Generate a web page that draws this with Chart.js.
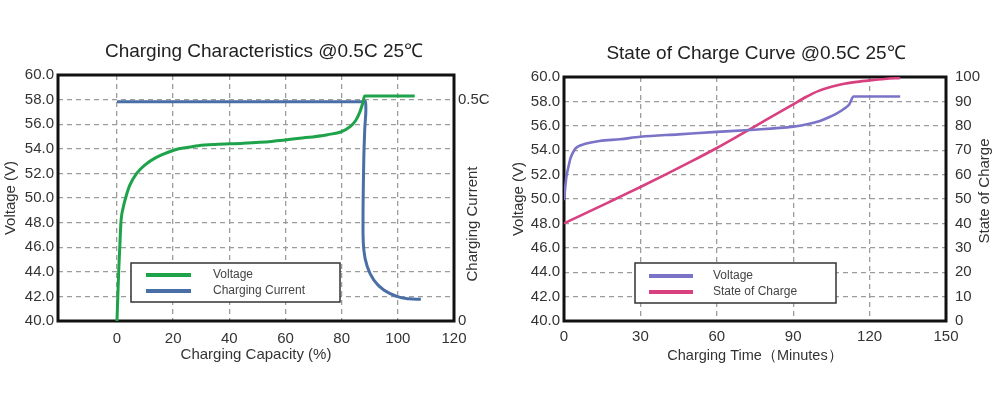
<!DOCTYPE html>
<html>
<head>
<meta charset="utf-8">
<script src="https://cdn.jsdelivr.net/npm/chart.js@4.4.1/dist/chart.umd.min.js"></script>
<style>
html,body{margin:0;padding:0;background:#fff;}
#wrap{position:relative;width:1000px;height:395px;overflow:hidden;}
canvas{position:absolute;top:0;}
#c1{left:0;}
#c2{left:500px;}
</style>
</head>
<body>
<div id="wrap">
<canvas id="c1" width="500" height="395"></canvas>
<canvas id="c2" width="500" height="395"></canvas>
</div>
<script>
// ---------- Left chart: Charging Characteristics ----------
const capVoltageX = [0, 0.3, 0.6, 1.0, 1.4, 2.2, 3.2, 4.5, 7, 10, 14, 18, 22, 26, 29, 35, 45, 55, 65, 75, 80, 83, 85, 86.5, 87.5, 88.2, 95, 106];
const capVoltageY = [40, 42, 44, 46, 48, 49.2, 50.1, 51, 52, 52.7, 53.3, 53.7, 54.0, 54.15, 54.25, 54.35, 54.45, 54.6, 54.85, 55.15, 55.4, 55.8, 56.3, 57.0, 57.7, 58.3, 58.3, 58.3];
const capCurrentX = [0, 87, 88.5, 88.2, 87.9, 87.6, 87.9, 89.1, 91.4, 95.0, 99.9, 104, 108.2];
const capCurrentY = [0.495, 0.495, 0.495, 0.43, 0.371, 0.221, 0.160, 0.123, 0.093, 0.070, 0.055, 0.050, 0.049];
const capTicks = [0, 20, 40, 60, 80, 100, 120];
const voltageTicks = [40, 42, 44, 46, 48, 50, 52, 54, 56, 58, 60];
const voltageTickLabels = ['40.0','42.0','44.0','46.0','48.0','50.0','52.0','54.0','56.0','58.0','60.0'];
const currentTicks = [0, 0.5];
const currentTickLabels = ['0', '0.5C'];

// ---------- Right chart: State of Charge Curve ----------
const timeVoltageX = [0, 0.5, 1, 1.6, 2.5, 4, 5.5, 8, 14, 22, 30, 45, 60, 73, 90, 95, 100.5, 104, 107, 110, 112, 113.7, 132];
const timeVoltageY = [49.9, 51.0, 51.9, 52.5, 53.3, 54.0, 54.3, 54.5, 54.75, 54.9, 55.1, 55.3, 55.5, 55.66, 55.93, 56.1, 56.4, 56.7, 57.0, 57.4, 57.75, 58.4, 58.4];
const timeSocX = [0, 10, 20, 30, 40, 50, 60, 70, 80, 90, 95, 100, 105, 110, 115, 120, 126, 132];
const timeSocY = [40, 44.9, 49.9, 54.9, 60.1, 65.4, 70.9, 76.8, 82.8, 88.8, 91.8, 94.3, 96.0, 97.2, 98.0, 98.6, 99.2, 99.6];
const timeTicks = [0, 30, 60, 90, 120, 150];
const socTicks = [0, 10, 20, 30, 40, 50, 60, 70, 80, 90, 100];

const pts = (xs, ys) => xs.map((x, i) => ({x: x, y: ys[i]}));

Chart.defaults.font.family = '"Liberation Sans", Arial, Helvetica, sans-serif';
Chart.defaults.color = '#333';

const GRID = '#9c9c9c';
const DASH = [5, 4];

const framePlugin = {
  id: 'frame',
  beforeDatasetsDraw(chart) {
    const {ctx, chartArea: a} = chart;
    ctx.save();
    ctx.lineWidth = 3;
    ctx.strokeStyle = '#111';
    ctx.strokeRect(a.left, a.top, a.right - a.left, a.bottom - a.top);
    ctx.restore();
  }
};

const decorPlugin = {
  id: 'decor',
  afterDraw(chart, args, o) {
    const ctx = chart.ctx;
    ctx.save();
    ctx.fillStyle = '#222';
    ctx.font = '19px "Liberation Sans", Arial, sans-serif';
    ctx.textAlign = 'center';
    ctx.textBaseline = 'middle';
    ctx.fillText(o.title.text, o.title.x, o.title.y);
    ctx.save();
    ctx.fillStyle = '#333';
    ctx.font = '15px "Liberation Sans", Arial, sans-serif';
    ctx.translate(o.side.x, o.side.y);
    ctx.rotate(-Math.PI / 2);
    ctx.fillText(o.side.text, 0, 0);
    ctx.restore();
    const b = o.legend.box;
    ctx.fillStyle = '#fff';
    ctx.fillRect(b[0], b[1], b[2], b[3]);
    ctx.lineWidth = 1.5;
    ctx.strokeStyle = '#333';
    ctx.strokeRect(b[0], b[1], b[2], b[3]);
    ctx.font = '12px "Liberation Sans", Arial, sans-serif';
    ctx.textAlign = 'left';
    chart.data.datasets.forEach((ds, i) => {
      const y = o.legend.ys[i];
      ctx.strokeStyle = ds.borderColor;
      ctx.lineWidth = 4;
      ctx.beginPath();
      ctx.moveTo(o.legend.sx[0], y);
      ctx.lineTo(o.legend.sx[1], y);
      ctx.stroke();
      ctx.fillStyle = '#444';
      ctx.fillText(ds.label, o.legend.tx, y);
    });
    ctx.restore();
  }
};

const tickFont = {size: 15};

new Chart(document.getElementById('c1'), {
  type: 'line',
  data: {
    datasets: [
      {label: 'Voltage', data: pts(capVoltageX, capVoltageY), borderColor: '#1ea34b', borderWidth: 3, pointRadius: 0, cubicInterpolationMode: 'monotone', yAxisID: 'y'},
      {label: 'Charging Current', data: pts(capCurrentX, capCurrentY), borderColor: '#4a6ea6', borderWidth: 3, pointRadius: 0, tension: 0.4, yAxisID: 'y1'}
    ]
  },
  options: {
    responsive: false,
    animation: false,
    events: [],
    layout: {padding: {top: 75, left: 0, right: 0, bottom: 0}},
    plugins: {
      legend: {display: false},
      tooltip: {enabled: false},
      decor: {
        title: {text: 'Charging Characteristics @0.5C 25℃', x: 264, y: 52},
        side: {text: 'Charging Current', x: 473, y: 224},
        legend: {box: [131, 263, 209, 39], sx: [146, 191], ys: [275, 291], tx: 213}
      }
    },
    scales: {
      x: {
        type: 'linear', min: -21, max: 120,
        afterBuildTicks: s => { s.ticks = capTicks.map(v => ({value: v})); },
        afterFit: s => { s.height = 74; },
        grid: {color: GRID, lineWidth: 1.3, drawTicks: false},
        border: {display: false, dash: DASH},
        ticks: {color: '#333', font: tickFont, padding: 9, maxRotation: 0, autoSkip: false},
        title: {display: true, text: 'Charging Capacity (%)', color: '#333', font: {size: 15}, padding: {top: 0, bottom: 31}}
      },
      y: {
        type: 'linear', position: 'left', min: 40, max: 60,
        afterBuildTicks: s => { s.ticks = voltageTicks.map(v => ({value: v})); },
        afterFit: s => { s.width = 58; },
        grid: {color: GRID, lineWidth: 1.3, drawTicks: false},
        border: {display: false, dash: DASH},
        ticks: {color: '#333', font: tickFont, padding: 4, callback: (v, i) => voltageTickLabels[i]},
        title: {display: true, text: 'Voltage (V)', color: '#333', font: {size: 15}, padding: {top: 2, bottom: 0}}
      },
      y1: {
        type: 'linear', position: 'right', min: 0, max: 0.5 / 0.9,
        afterBuildTicks: s => { s.ticks = currentTicks.map(v => ({value: v})); },
        afterFit: s => { s.width = 46; },
        grid: {display: false, drawTicks: false},
        border: {display: false},
        ticks: {color: '#333', font: tickFont, padding: 4, callback: (v, i) => currentTickLabels[i]}
      }
    }
  },
  plugins: [framePlugin, decorPlugin]
});

new Chart(document.getElementById('c2'), {
  type: 'line',
  data: {
    datasets: [
      {label: 'Voltage', data: pts(timeVoltageX, timeVoltageY), borderColor: '#7b73c7', borderWidth: 2.6, pointRadius: 0, cubicInterpolationMode: 'monotone', yAxisID: 'y'},
      {label: 'State of Charge', data: pts(timeSocX, timeSocY), borderColor: '#d9407f', borderWidth: 2.6, pointRadius: 0, cubicInterpolationMode: 'monotone', yAxisID: 'y1'}
    ]
  },
  options: {
    responsive: false,
    animation: false,
    events: [],
    layout: {padding: {top: 77, left: 0, right: 0, bottom: 0}},
    plugins: {
      legend: {display: false},
      tooltip: {enabled: false},
      decor: {
        title: {text: 'State of Charge Curve @0.5C 25℃', x: 256, y: 54},
        side: {text: 'State of Charge', x: 485, y: 191},
        legend: {box: [135, 263, 201, 40], sx: [149, 193], ys: [276, 292], tx: 213}
      }
    },
    scales: {
      x: {
        type: 'linear', min: 0, max: 150,
        afterBuildTicks: s => { s.ticks = timeTicks.map(v => ({value: v})); },
        afterFit: s => { s.height = 74; },
        grid: {color: GRID, lineWidth: 1.3, drawTicks: false},
        border: {display: false, dash: DASH},
        ticks: {color: '#333', font: tickFont, padding: 7, maxRotation: 0, autoSkip: false},
        title: {display: true, text: 'Charging Time（Minutes）', color: '#333', font: {size: 14.5}, padding: {top: 0, bottom: 30}}
      },
      y: {
        type: 'linear', position: 'left', min: 40, max: 60,
        afterBuildTicks: s => { s.ticks = voltageTicks.map(v => ({value: v})); },
        afterFit: s => { s.width = 64; },
        grid: {color: GRID, lineWidth: 1.3, drawTicks: false},
        border: {display: false, dash: DASH},
        ticks: {color: '#333', font: tickFont, padding: 4, callback: (v, i) => voltageTickLabels[i]},
        title: {display: true, text: 'Voltage (V)', color: '#333', font: {size: 15}, padding: {top: 10, bottom: 0}}
      },
      y1: {
        type: 'linear', position: 'right', min: 0, max: 100,
        afterBuildTicks: s => { s.ticks = socTicks.map(v => ({value: v})); },
        afterFit: s => { s.width = 54; },
        grid: {display: false, drawTicks: false},
        border: {display: false},
        ticks: {color: '#333', font: tickFont, padding: 9}
      }
    }
  },
  plugins: [framePlugin, decorPlugin]
});
</script>
</body>
</html>
